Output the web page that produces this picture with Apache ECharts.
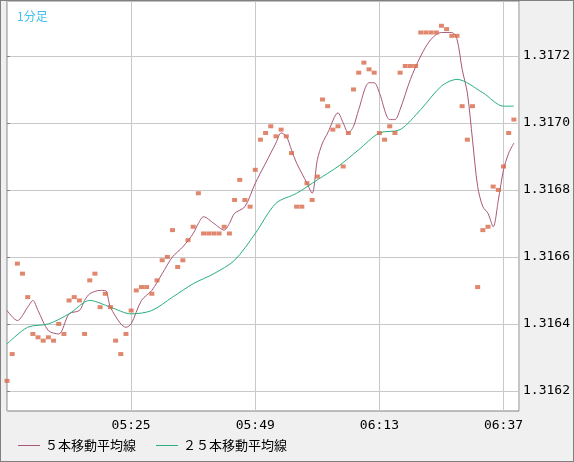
<!DOCTYPE html>
<html lang="ja">
<head>
<meta charset="UTF-8">
<title>1分足</title>
<script src="https://cdn.jsdelivr.net/npm/echarts@6/dist/echarts.min.js"></script>
<style>body{margin:0;}#main{width:572px;height:460px;border:1px solid #808080;}</style>
</head>
<body>
<div id="main"></div>
<script type="text/javascript">
// 05:01 - 06:40
var times = [];
for (var m = 1; m <= 100; m++) {
    var h = 5 + Math.floor(m / 60), mm = m % 60;
    times.push("0" + h + ":" + (mm < 10 ? "0" : "") + mm);
}
// 1分足の値 (05:01 - 06:39)
var prices = [
    1.31623,1.31631,1.31658,1.31655,1.31648,1.31637,1.31636,1.31635,1.31636,1.31635,
    1.31640,1.31637,1.31647,1.31648,1.31647,1.31637,1.31653,1.31655,1.31645,1.31649,
    1.31645,1.31635,1.31631,1.31637,1.31644,1.31650,1.31651,1.31651,1.31649,1.31653,
    1.31659,1.31660,1.31668,1.31657,1.31659,1.31665,1.31669,1.31679,1.31667,1.31667,
    1.31667,1.31667,1.31669,1.31667,1.31677,1.31683,1.31677,1.31675,1.31686,1.31695,
    1.31697,1.31699,1.31696,1.31698,1.31696,1.31691,1.31675,1.31675,1.31682,1.31677,
    1.31684,1.31707,1.31705,1.31698,1.31699,1.31687,1.31697,1.31710,1.31715,1.31718,
    1.31716,1.31715,1.31697,1.31695,1.31699,1.31697,1.31715,1.31717,1.31717,1.31717,
    1.31727,1.31727,1.31727,1.31727,1.31729,1.31728,1.31726,1.31726,1.31705,1.31695,
    1.31705,1.31651,1.31668,1.31669,1.31681,1.31680,1.31687,1.31697,1.31701
];
// 5本移動平均線 [index, value]
var ma5 = [
    [0,1.31644],[2,1.31641],[4,1.31645],[5,1.31647],[6,1.31644],[8,1.31638],[10,1.31637],
    [12,1.31643],[14,1.31644],[15,1.31647],[16,1.31649],[18,1.31650],[19,1.31650],[20,1.31645],
    [22,1.31640],[23,1.31639],[24,1.31640],[26,1.31647],[28,1.31650],[30,1.31655],[32,1.31660],
    [34,1.31663],[36,1.31667],[37,1.31670],[38,1.31672],[40,1.31670],[42,1.31668],[43,1.31670],
    [44,1.31673],[46,1.31675],[48,1.31682],[50,1.31688],[52,1.31694],[53,1.31697],[54,1.31696],
    [55,1.31692],[56,1.31688],[58,1.31682],[59,1.31679],[60,1.31689],[61,1.31694],[62,1.31697],
    [64,1.31703],[65,1.31700],[66,1.31697],[67,1.31699],[68,1.31704],[70,1.31712],[71,1.31712],
    [72,1.31709],[74,1.31701],[75,1.31701],[76,1.31704],[78,1.31713],[80,1.31720],[82,1.31725],
    [84,1.31727],[86,1.31727],[87,1.31725],[88,1.31716],[89,1.31709],[90,1.31695],[91,1.31681],
    [92,1.31675],[93,1.31673],[94,1.31669],[95,1.31677],[96,1.31686],[97,1.31691],[98,1.31694]
];
// 25本移動平均線 [index, value]
var ma25 = [
    [0,1.31634],[4,1.31639],[8,1.31640],[12,1.31643],[16,1.31647],[20,1.31645],[24,1.31643],
    [28,1.31644],[32,1.31648],[36,1.31652],[40,1.31655],[44,1.31659],[48,1.31667],[52,1.31676],
    [56,1.31679],[60,1.31683],[64,1.31687],[68,1.31692],[72,1.31697],[76,1.31698],[80,1.31704],
    [84,1.31711],[87,1.31713],[92,1.31709],[96,1.31705],[98,1.31705]
];
var yTicks = [1.3162, 1.3164, 1.3166, 1.3168, 1.3170, 1.3172];
var xLabels = ["05:25", "05:49", "06:13", "06:37"];

var myChart = echarts.init(document.getElementById("main"));
var mono = "DejaVu Sans Mono";
var option = {
    backgroundColor: "#f0f0f0",
    animation: false,
    title: {
        text: "1分足", left: 11, top: 4,
        textStyle: {color: "#40c0f0", fontSize: 12, fontWeight: "normal", fontFamily: "Noto Sans CJK JP"}
    },
    legend: {
        left: 12, bottom: 4, itemWidth: 22, itemGap: 20,
        icon: "rect", itemHeight: 1,
        textStyle: {fontSize: 13, color: "#000", fontFamily: "Noto Sans CJK JP"},
        data: ["５本移動平均線", "２５本移動平均線"]
    },
    grid: {
        left: 6, right: 50, top: 0, bottom: 50,
        show: true, backgroundColor: "#fff", borderColor: "#808080", borderWidth: 1
    },
    xAxis: [
        {
            type: "category", data: times, boundaryGap: false,
            axisLine: {show: false}, axisTick: {show: false},
            axisLabel: {
                interval: function (i, v) { return xLabels.indexOf(v) >= 0; },
                color: "#000", fontSize: 13, fontFamily: mono, margin: 8
            },
            splitLine: {show: false}
        },
        {
            // 縦の目盛線用
            type: "value", min: 0, max: times.length - 1, interval: 24, position: "top",
            axisLine: {show: false}, axisTick: {show: false}, axisLabel: {show: false},
            splitLine: {show: true, lineStyle: {color: "#c8c8c8", width: 1}}
        }
    ],
    yAxis: {
        type: "value", position: "right", min: 1.31614, max: 1.317364,
        axisLine: {show: false},
        axisTick: {show: true, length: 3, customValues: yTicks, lineStyle: {color: "#808080"}},
        axisLabel: {customValues: yTicks, color: "#000", fontSize: 13, fontFamily: mono, margin: 4,
            formatter: function (v) { return v.toFixed(4); }},
        splitLine: {show: true, lineStyle: {color: "#c8c8c8"}}
    },
    series: [
        {
            name: "price", type: "scatter", symbol: "rect", symbolSize: [5, 4],
            itemStyle: {color: "#d8694a"}, data: prices, z: 3
        },
        {
            name: "５本移動平均線", type: "line", smooth: 0.3, showSymbol: false, symbol: "none",
            lineStyle: {color: "#a8587a", width: 1}, itemStyle: {color: "#a8587a"}, data: ma5
        },
        {
            name: "２５本移動平均線", type: "line", smooth: 0.3, showSymbol: false, symbol: "none",
            lineStyle: {color: "#28b080", width: 1}, itemStyle: {color: "#28b080"}, data: ma25
        }
    ]
};
myChart.setOption(option);
</script>
</body>
</html>
